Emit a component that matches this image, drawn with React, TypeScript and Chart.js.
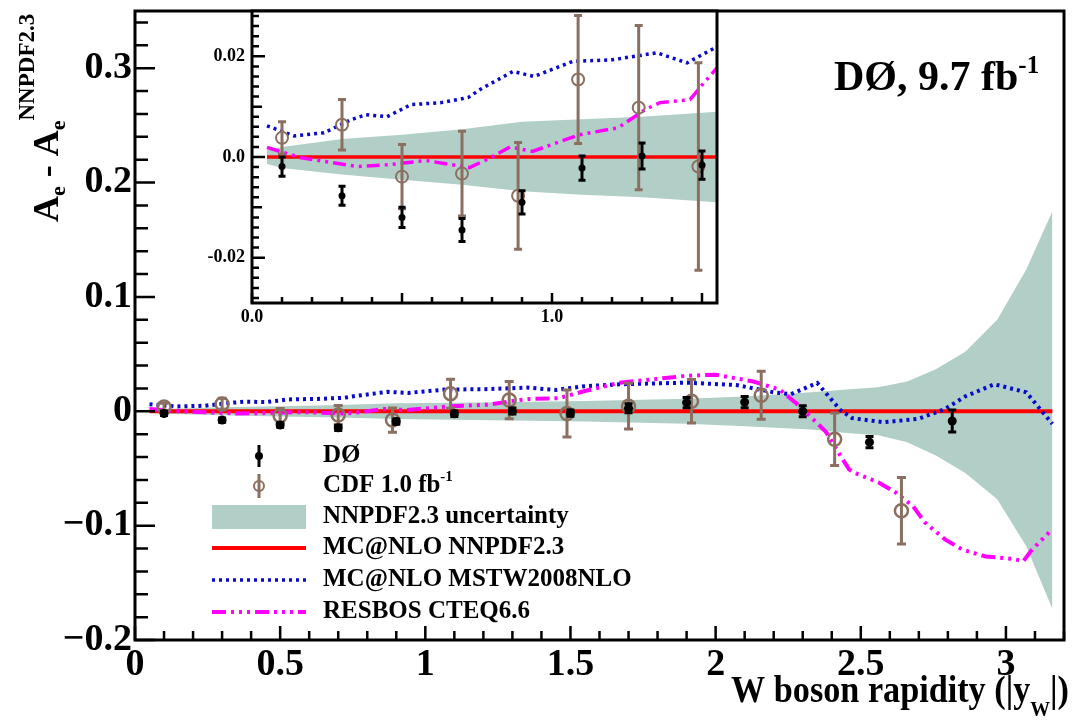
import React, { useEffect, useRef } from "react";
import { Chart, registerables } from "chart.js";

Chart.register(...registerables);

const FONT = '"Liberation Serif", "Times New Roman", serif';
const BLACK = "#000000";
const BROWN = "#8b6f60";
const BAND = "#b2cfc7";
const RED = "#ff0000";
const BLUE = "#0a0acc";
const MAGENTA = "#ff00ff";

// ---- DØ 9.7 fb-1 measurement (difference to MC@NLO NNPDF2.3) ----
const d0Rapidity = [0.1, 0.3, 0.5, 0.7, 0.9, 1.1, 1.3, 1.5, 1.7, 1.9, 2.1, 2.3, 2.53, 2.815];
const d0Diff = [-0.0019, -0.0077, -0.012, -0.0145, -0.009, -0.0022, 0.0002, -0.0016, 0.0026, 0.0076, 0.008, 0.0, -0.027, -0.0085];
const d0Err = [0.0019, 0.0019, 0.002, 0.0023, 0.0023, 0.0024, 0.0026, 0.0028, 0.004, 0.0045, 0.005, 0.0048, 0.005, 0.0096];

// ---- CDF 1.0 fb-1 ----
const cdfRapidity = [0.1, 0.3, 0.5, 0.7, 0.887, 1.087, 1.289, 1.488, 1.7, 1.917, 2.157, 2.41, 2.64];
const cdfDiff = [0.0038, 0.0064, -0.0039, -0.0033, -0.0077, 0.0154, 0.0098, -0.0019, 0.0044, 0.0087, 0.014, -0.0245, -0.087];
const cdfErr = [0.0032, 0.005, 0.0064, 0.0084, 0.0106, 0.0127, 0.0163, 0.0206, 0.02, 0.019, 0.021, 0.023, 0.029];

// ---- NNPDF2.3 uncertainty band ----
const bandRapidity = [0.05, 0.1, 0.3, 0.5, 0.7, 0.9, 1.1, 1.3, 1.55, 1.9, 2.1, 2.33, 2.45, 2.56, 2.66, 2.76, 2.86, 2.97, 3.07, 3.16];
const bandUpper = [0.0015, 0.002, 0.0036, 0.0044, 0.0055, 0.007, 0.0075, 0.008, 0.009, 0.011, 0.013, 0.0166, 0.019, 0.021, 0.026, 0.037, 0.052, 0.08, 0.124, 0.175];
const bandLower = [-0.0014, -0.0022, -0.0035, -0.0045, -0.0055, -0.0068, -0.0075, -0.008, -0.009, -0.011, -0.013, -0.016, -0.019, -0.021, -0.027, -0.039, -0.054, -0.077, -0.118, -0.173];

// ---- MC@NLO NNPDF2.3 (reference, zero) ----
const nnpdfRapidity = [0.05, 3.16];
const nnpdfDiff = [0, 0];

// ---- MC@NLO MSTW2008NLO ----
const mstwRapidity = [0.05, 0.14, 0.24, 0.33, 0.38, 0.45, 0.53, 0.63, 0.72, 0.76, 0.87, 0.94, 1.07, 1.2, 1.35, 1.45, 1.55, 1.67, 1.9, 2.07, 2.2, 2.26, 2.35, 2.43, 2.47, 2.58, 2.7, 2.79, 2.86, 2.96, 3.07, 3.16];
const mstwDiff = [0.0062, 0.0042, 0.0048, 0.0074, 0.0084, 0.008, 0.0104, 0.0108, 0.0118, 0.0134, 0.017, 0.016, 0.019, 0.0193, 0.0207, 0.0187, 0.0219, 0.0236, 0.025, 0.023, 0.0166, 0.015, 0.0248, 0.001, -0.006, -0.0096, -0.0065, 0.002, 0.013, 0.0236, 0.0166, -0.011];

// ---- RESBOS CTEQ6.6 ----
const resbosRapidity = [0.05, 0.16, 0.35, 0.46, 0.58, 0.725, 0.79, 0.86, 0.935, 1.09, 1.22, 1.31, 1.36, 1.46, 1.51, 1.55, 1.67, 1.9, 2.0, 2.13, 2.22, 2.29, 2.38, 2.43, 2.46, 2.49, 2.56, 2.62, 2.68, 2.72, 2.79, 2.85, 2.93, 3.02, 3.06, 3.09, 3.16];
const resbosDiff = [0.0019, -0.0001, -0.0019, -0.0015, -0.0007, -0.0021, -0.0003, 0.002, 0.0011, 0.0044, 0.0058, 0.0094, 0.0108, 0.0114, 0.015, 0.0177, 0.025, 0.031, 0.032, 0.026, 0.019, 0.0045, -0.018, -0.039, -0.051, -0.055, -0.062, -0.071, -0.083, -0.097, -0.112, -0.121, -0.127, -0.129, -0.131, -0.121, -0.103];

// ---- axis tick labels ----
const mainXTicks = [0, 0.5, 1, 1.5, 2, 2.5, 3];
const mainYTicks = [-0.2, -0.1, 0, 0.1, 0.2, 0.3];
const insetXTicks = [0, 1];
const insetYTicks = [-0.02, 0, 0.02];

const legendLabels = ["DØ", "CDF 1.0 fb", "NNPDF2.3 uncertainty", "MC@NLO NNPDF2.3", "MC@NLO MSTW2008NLO", "RESBOS CTEQ6.6"];

const pts = (xs: number[], ys: number[]) => xs.map((x, i) => ({ x, y: ys[i] }));

type Style = {
  lineW: number; redW: number; dot: number[]; dashDot: number[];
  d0R: number; cdfR: number; cdfW: number; barW: number; cap: number; d0Cap: number;
};

function buildDatasets(s: Style): any[] {
  return [
    { label: "DØ", data: pts(d0Rapidity, d0Diff), showLine: false, pointRadius: s.d0R, pointBackgroundColor: BLACK, pointBorderColor: BLACK, pointBorderWidth: 0 },
    { label: "CDF", data: pts(cdfRapidity, cdfDiff), showLine: false, pointRadius: s.cdfR, pointBackgroundColor: "rgba(0,0,0,0)", pointBorderColor: BROWN, pointBorderWidth: s.cdfW },
    { label: "RESBOS", data: pts(resbosRapidity, resbosDiff), borderColor: MAGENTA, borderWidth: s.lineW, borderDash: s.dashDot, pointRadius: 0, fill: false, tension: 0 },
    { label: "MSTW", data: pts(mstwRapidity, mstwDiff), borderColor: BLUE, borderWidth: s.lineW, borderDash: s.dot, pointRadius: 0, fill: false, tension: 0 },
    { label: "NNPDF", data: pts(nnpdfRapidity, nnpdfDiff), borderColor: RED, borderWidth: s.redW, pointRadius: 0, fill: false },
    { label: "band lower", data: pts(bandRapidity, bandLower), borderWidth: 0, borderColor: "rgba(0,0,0,0)", pointRadius: 0, fill: "+1", backgroundColor: BAND },
    { label: "band upper", data: pts(bandRapidity, bandUpper), borderWidth: 0, borderColor: "rgba(0,0,0,0)", pointRadius: 0, fill: false },
  ];
}

function errorBarPlugin(s: Style) {
  const cfg: Record<number, { xs: number[]; ys: number[]; es: number[]; color: string; cap: number }> = {
    0: { xs: d0Rapidity, ys: d0Diff, es: d0Err, color: BLACK, cap: s.d0Cap },
    1: { xs: cdfRapidity, ys: cdfDiff, es: cdfErr, color: BROWN, cap: s.cap },
  };
  return {
    id: "errorBars",
    afterDatasetDraw(chart: any, args: any) {
      const c = cfg[args.index];
      if (!c) return;
      const { ctx, chartArea: a, scales } = chart;
      ctx.save();
      ctx.beginPath();
      ctx.rect(a.left, a.top, a.right - a.left, a.bottom - a.top);
      ctx.clip();
      ctx.strokeStyle = c.color;
      ctx.lineWidth = s.barW;
      c.xs.forEach((xv, i) => {
        const px = scales.x.getPixelForValue(xv);
        const y1 = scales.y.getPixelForValue(c.ys[i] - c.es[i]);
        const y2 = scales.y.getPixelForValue(c.ys[i] + c.es[i]);
        ctx.beginPath();
        ctx.moveTo(px, y1); ctx.lineTo(px, y2);
        ctx.moveTo(px - c.cap, y1); ctx.lineTo(px + c.cap, y1);
        ctx.moveTo(px - c.cap, y2); ctx.lineTo(px + c.cap, y2);
        ctx.stroke();
      });
      ctx.restore();
    },
  };
}

type Decor = {
  xMax: number; xStep: number; xMajorEvery: number; xMajorLen: number; xMinorLen: number;
  yMin: number; yMax: number; yStep: number; yMajorEvery: number; yMidEvery: number; yMajorLen: number; yMidLen: number; yMinorLen: number;
  tickW: number; frameW: number; whiteBg: boolean;
};

function decorPlugin(d: Decor) {
  return {
    id: "decor",
    beforeDraw(chart: any) {
      if (!d.whiteBg) return;
      const { ctx, chartArea: a } = chart;
      ctx.save();
      ctx.fillStyle = "#ffffff";
      ctx.fillRect(a.left, a.top, a.right - a.left, a.bottom - a.top);
      ctx.restore();
    },
    afterDatasetsDraw(chart: any) {
      const { ctx, chartArea: a, scales } = chart;
      ctx.save();
      ctx.strokeStyle = BLACK;
      ctx.lineWidth = d.tickW;
      ctx.beginPath();
      const nx = Math.round(d.xMax / d.xStep);
      for (let i = 0; i <= nx; i++) {
        const px = scales.x.getPixelForValue(i * d.xStep);
        const len = i % d.xMajorEvery === 0 ? d.xMajorLen : d.xMinorLen;
        ctx.moveTo(px, a.bottom); ctx.lineTo(px, a.bottom - len);
      }
      const ny0 = Math.ceil(d.yMin / d.yStep - 1e-6);
      const ny1 = Math.floor(d.yMax / d.yStep + 1e-6);
      for (let j = ny0; j <= ny1; j++) {
        const py = scales.y.getPixelForValue(j * d.yStep);
        const len = j % d.yMajorEvery === 0 ? d.yMajorLen : j % d.yMidEvery === 0 ? d.yMidLen : d.yMinorLen;
        ctx.moveTo(a.left, py); ctx.lineTo(a.left + len, py);
      }
      ctx.stroke();
      ctx.lineWidth = d.frameW;
      ctx.strokeRect(a.left, a.top, a.right - a.left, a.bottom - a.top);
      ctx.restore();
    },
  };
}

type Part = { t: string; size: number; dy: number };
function drawRich(ctx: CanvasRenderingContext2D, parts: Part[], x: number, y: number) {
  let cx = x;
  for (const p of parts) {
    ctx.font = `bold ${p.size}px ${FONT}`;
    ctx.fillText(p.t, cx, y + p.dy);
    cx += ctx.measureText(p.t).width;
  }
  return cx;
}
function richWidth(ctx: CanvasRenderingContext2D, parts: Part[]) {
  let w = 0;
  for (const p of parts) { ctx.font = `bold ${p.size}px ${FONT}`; w += ctx.measureText(p.t).width; }
  return w;
}

const textPlugin = {
  id: "texts",
  afterDraw(chart: any) {
    const ctx: CanvasRenderingContext2D = chart.ctx;
    ctx.save();
    ctx.fillStyle = BLACK;
    ctx.textBaseline = "alphabetic";
    ctx.textAlign = "left";

    // experiment label
    drawRich(ctx, [{ t: "DØ, 9.7 fb", size: 42, dy: 0 }, { t: "-1", size: 25, dy: -17 }], 834, 90);

    // x axis title (slightly condensed like the original typeface)
    const xt: Part[] = [{ t: "W boson rapidity (|y", size: 38, dy: 0 }, { t: "W", size: 22, dy: 14 }, { t: "|)", size: 38, dy: 0 }];
    ctx.save();
    const sx = 0.9;
    ctx.translate(1069, 702);
    ctx.scale(sx, 1);
    drawRich(ctx, xt, -richWidth(ctx, xt), 0);
    ctx.restore();

    // y axis title (rotated)
    ctx.save();
    ctx.translate(58, 222);
    ctx.rotate(-Math.PI / 2);
    drawRich(ctx, [
      { t: "A", size: 36, dy: 0 }, { t: "e", size: 22, dy: 7 }, { t: " - ", size: 36, dy: 0 },
      { t: "A", size: 36, dy: 0 }, { t: "e", size: 22, dy: 7 }, { t: "NNPDF2.3", size: 23, dy: -24 },
    ], 0, 0);
    ctx.restore();

    // legend
    const lx0 = 212, lx1 = 306, lxc = 259, tx = 323;
    const rows = [456, 486, 517, 548, 580, 612];
    ctx.textBaseline = "middle";
    ctx.font = `bold 25px ${FONT}`;
    // DØ
    ctx.strokeStyle = BLACK; ctx.lineWidth = 3;
    ctx.beginPath(); ctx.moveTo(lxc, rows[0] - 11); ctx.lineTo(lxc, rows[0] + 11); ctx.stroke();
    ctx.beginPath(); ctx.arc(lxc, rows[0], 4, 0, Math.PI * 2); ctx.fill();
    // CDF
    ctx.strokeStyle = BROWN; ctx.lineWidth = 3;
    ctx.beginPath(); ctx.moveTo(lxc, rows[1] - 12); ctx.lineTo(lxc, rows[1] + 12); ctx.stroke();
    ctx.lineWidth = 2;
    ctx.beginPath(); ctx.arc(lxc, rows[1], 5, 0, Math.PI * 2); ctx.stroke();
    // band
    ctx.fillStyle = BAND;
    ctx.fillRect(lx0, rows[2] - 12, lx1 - lx0, 24);
    ctx.fillStyle = BLACK;
    // lines
    const lineRow = (y: number, color: string, w: number, dash: number[]) => {
      ctx.save(); ctx.strokeStyle = color; ctx.lineWidth = w; ctx.setLineDash(dash);
      ctx.beginPath(); ctx.moveTo(lx0, y); ctx.lineTo(lx1, y); ctx.stroke(); ctx.restore();
    };
    lineRow(rows[3], RED, 4, []);
    lineRow(rows[4], BLUE, 3.5, [3, 4]);
    lineRow(rows[5], MAGENTA, 4, [14, 5, 3, 5, 3, 5, 3, 5]);

    legendLabels.forEach((lab, i) => {
      if (i === 1) {
        drawRich(ctx, [{ t: lab, size: 25, dy: 0 }, { t: "-1", size: 15, dy: -9 }], tx, rows[i]);
      } else {
        ctx.font = `bold 25px ${FONT}`;
        ctx.fillText(lab, tx, rows[i]);
      }
    });
    ctx.restore();
  },
};

const fmtMain = (v: number) => {
  if (Math.abs(v) < 1e-9) return "0";
  const s = String(Math.round(Math.abs(v) * 10) / 10);
  return v < 0 ? "\u2212" + s : s;
};
const fmtInsetY = (v: number) => (Math.abs(v) < 1e-9 ? "0.0" : v.toFixed(2));

const noPadX = (h: number) => (sc: any) => { sc.height = h; sc.paddingLeft = 0; sc.paddingRight = 0; };
const noPadY = (w: number) => (sc: any) => { sc.width = w; sc.paddingTop = 0; sc.paddingBottom = 0; };

const MAIN_STYLE: Style = { lineW: 4, redW: 4, dot: [3, 4], dashDot: [14, 5, 3, 5, 3, 5, 3, 5], d0R: 4.5, cdfR: 6.5, cdfW: 2.5, barW: 3, cap: 4.5, d0Cap: 4 };
const INSET_STYLE: Style = { lineW: 3.5, redW: 3.5, dot: [3, 4], dashDot: [13, 5, 3, 5, 3, 5], d0R: 3.5, cdfR: 6, cdfW: 2, barW: 3, cap: 4, d0Cap: 3.5 };

function mainConfig(): any {
  const tickFont = { family: FONT, size: 38, weight: "bold" as const };
  return {
    type: "line",
    data: { datasets: buildDatasets(MAIN_STYLE) },
    options: {
      responsive: false, animation: false, devicePixelRatio: 1, events: [],
      layout: { padding: { left: 0, right: 8, top: 11, bottom: 0 } },
      plugins: { legend: { display: false }, tooltip: { enabled: false } },
      scales: {
        x: {
          type: "linear", min: 0, max: 3.2,
          grid: { display: false, drawTicks: false }, border: { display: false },
          afterBuildTicks: (sc: any) => { sc.ticks = mainXTicks.map((v) => ({ value: v })); },
          afterFit: noPadX(85),
          ticks: { font: tickFont, color: BLACK, padding: 2, maxRotation: 0, autoSkip: false, callback: (v: number) => fmtMain(v) },
        },
        y: {
          type: "linear", min: -0.2, max: 0.35,
          grid: { display: false, drawTicks: false }, border: { display: false },
          afterBuildTicks: (sc: any) => { sc.ticks = mainYTicks.map((v) => ({ value: v })); },
          afterFit: noPadY(135),
          ticks: { font: tickFont, color: BLACK, padding: 3, autoSkip: false, callback: (v: number) => fmtMain(v) },
        },
      },
    },
    plugins: [
      errorBarPlugin(MAIN_STYLE),
      decorPlugin({ xMax: 3.2, xStep: 0.1, xMajorEvery: 5, xMajorLen: 14, xMinorLen: 9, yMin: -0.2, yMax: 0.35, yStep: 0.02, yMajorEvery: 5, yMidEvery: 5, yMajorLen: 20, yMidLen: 20, yMinorLen: 13, tickW: 2.5, frameW: 3, whiteBg: false }),
      textPlugin,
    ],
  };
}

function insetConfig(): any {
  const tickFont = { family: FONT, size: 18, weight: "bold" as const };
  return {
    type: "line",
    data: { datasets: buildDatasets(INSET_STYLE) },
    options: {
      responsive: false, animation: false, devicePixelRatio: 1, events: [],
      layout: { padding: { left: 0, right: 7, top: 11, bottom: 0 } },
      plugins: { legend: { display: false }, tooltip: { enabled: false } },
      scales: {
        x: {
          type: "linear", min: 0, max: 1.55,
          grid: { display: false, drawTicks: false }, border: { display: false },
          afterBuildTicks: (sc: any) => { sc.ticks = insetXTicks.map((v) => ({ value: v })); },
          afterFit: noPadX(32),
          ticks: { font: tickFont, color: BLACK, padding: 4, maxRotation: 0, autoSkip: false, callback: (v: number) => v.toFixed(1) },
        },
        y: {
          type: "linear", min: -0.029, max: 0.029,
          grid: { display: false, drawTicks: false }, border: { display: false },
          afterBuildTicks: (sc: any) => { sc.ticks = insetYTicks.map((v) => ({ value: v })); },
          afterFit: noPadY(72),
          ticks: { font: tickFont, color: BLACK, padding: 7, autoSkip: false, callback: (v: number) => fmtInsetY(v) },
        },
      },
    },
    plugins: [
      errorBarPlugin(INSET_STYLE),
      decorPlugin({ xMax: 1.55, xStep: 0.1, xMajorEvery: 5, xMajorLen: 10, xMinorLen: 6, yMin: -0.029, yMax: 0.029, yStep: 0.002, yMajorEvery: 10, yMidEvery: 5, yMajorLen: 13, yMidLen: 10, yMinorLen: 7, tickW: 2.5, frameW: 3, whiteBg: true }),
    ],
  };
}

export default function App() {
  const mainRef = useRef<HTMLCanvasElement>(null);
  const insetRef = useRef<HTMLCanvasElement>(null);
  useEffect(() => {
    document.body.style.margin = "0";
    const main = new Chart(mainRef.current as HTMLCanvasElement, mainConfig());
    const inset = new Chart(insetRef.current as HTMLCanvasElement, insetConfig());
    return () => { main.destroy(); inset.destroy(); };
  }, []);
  return (
    <div style={{ position: "relative", width: 1073, height: 725, background: "#ffffff", overflow: "hidden" }}>
      <canvas ref={mainRef} width={1073} height={725} style={{ position: "absolute", left: 0, top: 0 }} />
      <canvas ref={insetRef} width={545} height={335} style={{ position: "absolute", left: 180, top: 0 }} />
    </div>
  );
}
